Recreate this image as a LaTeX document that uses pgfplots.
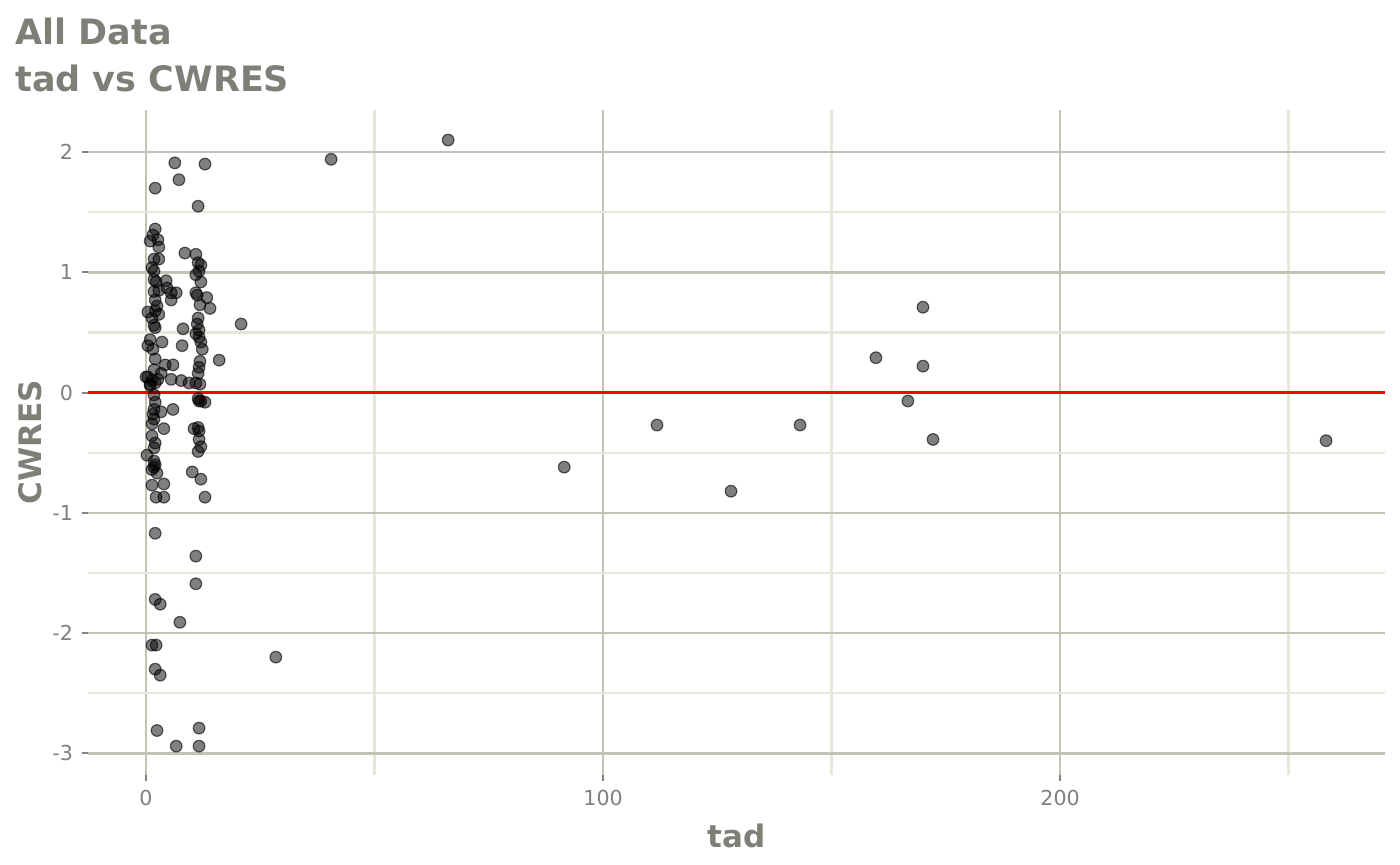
\documentclass[border=0pt]{standalone}
\usepackage{pgfplots}
\pgfplotsset{compat=1.18}
\usepackage{fontspec}
\setmainfont{DejaVu Sans}
\definecolor{titlegray}{HTML}{7F7F77}
\definecolor{tickgray}{HTML}{808080}
\definecolor{gridmajor}{HTML}{C2C2B6}
\definecolor{gridminor}{HTML}{E6E6D9}
\begin{document}
\begin{tikzpicture}
\useasboundingbox (0,0) rectangle (700pt,432.5pt);
\node[anchor=base west, inner sep=0pt, text=titlegray, font=\fontsize{17.5}{21}\selectfont\bfseries] at (7.5pt,410pt) {All Data};
\node[anchor=base west, inner sep=0pt, text=titlegray, font=\fontsize{17.5}{21}\selectfont\bfseries] at (7.5pt,386.5pt) {tad vs CWRES};
\begin{axis}[
  at={(44pt,45pt)}, anchor=south west,
  scale only axis, width=648.5pt, height=332.5pt,
  xmin=-12.7, xmax=271.1, ymin=-3.18, ymax=2.35,
  axis line style={draw=none},
  xtick={0,100,200}, xticklabels={0,100,200},
  ytick={-3,-2,-1,0,1,2}, yticklabels={-3,-2,-1,0,1,2},
  minor xtick={50,150,250},
  minor ytick={-2.5,-1.5,-0.5,0.5,1.5},
  xtick pos=lower, ytick pos=left,
  tick align=outside,
  major tick length=3pt, minor tick length=0pt,
  tick style={tickgray, line width=1pt},
  grid=both,
  major grid style={gridmajor, line width=1.2pt},
  minor grid style={gridminor, line width=1.2pt},
  ticklabel style={font=\fontsize{10.3}{12}\selectfont, text=tickgray},
  xticklabel style={yshift=-1pt},
  yticklabel style={xshift=-1pt},
  xlabel={tad}, ylabel={CWRES},
  every axis x label/.style={at={(axis description cs:0.5,0)}, anchor=base, yshift=-36.5pt, font=\fontsize{15.5}{18}\selectfont\bfseries, text=titlegray},
  every axis y label/.style={at={(axis description cs:-0.0447,0.5)}, anchor=center, rotate=90, font=\fontsize{15.5}{18}\selectfont\bfseries, text=titlegray},
  clip=false,
]
\addplot[only marks, mark=*, mark size=2.9pt, mark options={fill=black, fill opacity=0.5, draw=black, draw opacity=0.6, line width=0.6pt}] coordinates {
(6.3,1.91)(12.9,1.90)(7.2,1.77)(11.4,1.55)(40.5,1.94)(66.1,2.10)(2.0,1.70)
(2.0,1.36)(0.9,1.26)(1.5,1.31)(2.6,1.27)(2.8,1.21)(1.75,1.11)(2.8,1.11)
(1.3,1.04)(1.75,1.01)(1.75,0.94)(2.2,0.92)(4.4,0.93)
(8.5,1.16)(10.9,1.15)(11.4,1.08)(12.0,1.06)(11.6,1.01)(10.9,0.98)
(5.5,0.83)(6.6,0.83)(4.6,0.87)(5.5,0.77)(1.75,0.84)(2.8,0.85)(2.0,0.77)
(2.4,0.72)(2.0,0.68)(2.8,0.65)(0.4,0.67)(1.3,0.62)(1.75,0.56)(2.0,0.54)
(10.9,0.83)(11.2,0.81)(11.8,0.73)(12.0,0.92)(13.3,0.79)(14.0,0.70)
(11.4,0.62)(11.2,0.57)(11.6,0.52)(10.9,0.49)(11.6,0.46)(12.0,0.42)(12.3,0.36)
(8.1,0.53)(7.9,0.39)(3.5,0.42)(0.9,0.44)(1.5,0.36)(0.4,0.39)(2.0,0.28)
(20.8,0.57)(16.0,0.27)(5.9,0.23)(4.2,0.23)(11.8,0.26)(11.6,0.21)(11.4,0.16)
(1.75,0.19)(3.3,0.16)(0.4,0.13)(1.3,0.10)(2.6,0.11)(5.5,0.11)(7.7,0.10)
(9.4,0.08)(10.9,0.08)(11.8,0.07)(0.9,0.07)(2.0,0.08)(0.9,0.06)(0.0,0.13)
(11.4,-0.05)(11.6,-0.07)(12.9,-0.08)(12.0,-0.07)(1.75,-0.02)(2.0,-0.08)
(1.75,-0.14)(1.5,-0.18)(1.75,-0.22)(3.3,-0.16)(5.9,-0.14)(1.3,-0.26)
(3.9,-0.30)(10.5,-0.30)(11.4,-0.29)(11.6,-0.32)(1.3,-0.36)(11.6,-0.39)
(12.0,-0.45)(2.0,-0.42)(1.75,-0.46)(11.4,-0.49)(0.2,-0.52)(1.75,-0.57)
(2.0,-0.60)(1.3,-0.64)(1.75,-0.62)(2.4,-0.67)(10.1,-0.66)(12.0,-0.72)
(1.3,-0.77)(3.9,-0.76)(2.2,-0.87)(3.9,-0.87)(12.9,-0.87)
(2.0,-1.17)(10.9,-1.36)(10.9,-1.59)(2.0,-1.72)(3.1,-1.76)(7.4,-1.91)
(1.3,-2.10)(2.2,-2.10)(2.0,-2.30)(3.1,-2.35)(28.4,-2.20)
(2.4,-2.81)(11.6,-2.79)(6.6,-2.94)(11.6,-2.94)
(91.5,-0.62)(111.8,-0.27)(128.0,-0.82)(143.1,-0.27)(159.7,0.29)
(166.7,-0.07)(170.0,0.71)(170.0,0.22)(172.2,-0.39)(258.2,-0.40)
};
\addplot[red, line width=1.1pt, forget plot] coordinates {(-12.7,0)(271.1,0)};
\end{axis}
\end{tikzpicture}
\end{document}
